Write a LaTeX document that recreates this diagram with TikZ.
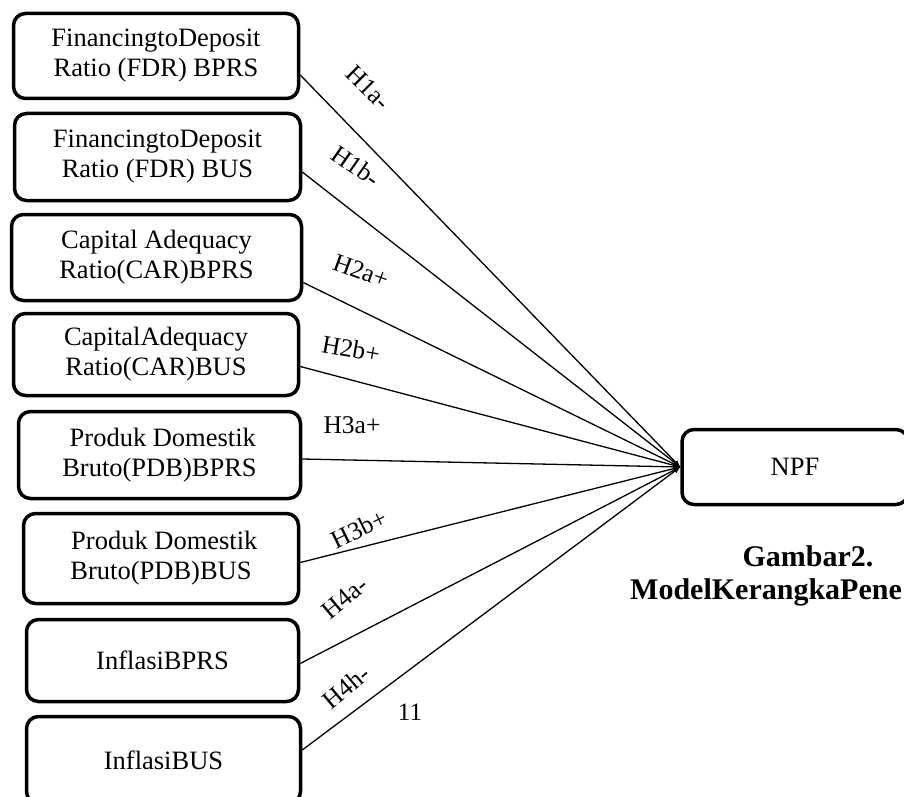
\documentclass[tikz,border=0pt]{standalone}
\usepackage{fontspec}
\setmainfont{Liberation Serif}
\tikzset{
    varbox/.style={draw, line width=3.5pt, rounded corners=12pt, align=center,
        font=\fontsize{26.5}{30}\selectfont},
    hyp/.style={font=\fontsize{25.5}{29}\selectfont, inner sep=0pt},
}
\begin{document}
\begin{tikzpicture}[>=latex, x=1pt, y=-1pt]
    \useasboundingbox (0,0) rectangle (904,797);
    % variabel independen
    \node[varbox, minimum width=285pt, minimum height=85pt] (fdrbprs) at (156,56) {FinancingtoDeposit\\Ratio (FDR) BPRS};
    \node[varbox, minimum width=286pt, minimum height=87pt] (fdrbus) at (157.5,157) {FinancingtoDeposit\\Ratio (FDR) BUS};
    \node[varbox, minimum width=290pt, minimum height=86pt] (carbprs) at (156.5,257.5) {Capital Adequacy\\Ratio(CAR)BPRS};
    \node[varbox, minimum width=285pt, minimum height=82pt] (carbus) at (156,354.5) {CapitalAdequacy\\Ratio(CAR)BUS};
    \node[varbox, minimum width=282pt, minimum height=87pt] (pdbbprs) at (159.5,455) {\ Produk Domestik\\Bruto(PDB)BPRS};
    \node[varbox, minimum width=275pt, minimum height=90pt] (pdbbus) at (161,558.5) {\ Produk Domestik\\Bruto(PDB)BUS};
    \node[varbox, minimum width=272pt, minimum height=82pt] (infbprs) at (162.5,660.5) {InflasiBPRS};
    \node[varbox, minimum width=274pt, minimum height=87pt] (infbus) at (163.5,760) {InflasiBUS};
    % variabel dependen
    \node[varbox, minimum width=226pt, minimum height=75pt] (npf) at (795,467) {NPF};
    % hubungan
    \draw[->, line width=1.3pt] ([yshift=-19pt]fdrbprs.east) -- (npf.west);
    \draw[->, line width=1.3pt] ([yshift=-15pt]fdrbus.east) -- (npf.west);
    \draw[->, line width=1.3pt] ([yshift=-25pt]carbprs.east) -- (npf.west);
    \draw[->, line width=1.3pt] ([yshift=-12pt]carbus.east) -- (npf.west);
    \draw[->, line width=1.3pt] ([yshift=-4pt]pdbbprs.east) -- (npf.west);
    \draw[->, line width=1.3pt] ([yshift=-4pt]pdbbus.east) -- (npf.west);
    \draw[->, line width=1.3pt] ([yshift=-3pt]infbprs.east) -- (npf.west);
    \draw[->, line width=1.3pt] ([yshift=10pt]infbus.east) -- (npf.west);
    % label hipotesis
    \node[hyp, rotate=-45] (h1a) at (368,88) {H1a-};
    \node[hyp, rotate=-35] (h1b) at (356,166) {H1b-};
    \node[hyp, rotate=-20] (h2a) at (361,271) {H2a+};
    \node[hyp, rotate=-10] (h2b) at (351,349) {H2b+};
    \node[hyp] (h3a) at (352,425) {H3a+};
    \node[hyp, rotate=26] (h3b) at (359,529) {H3b+};
    \node[hyp, rotate=40] (h4a) at (345,598) {H4a-};
    \node[hyp, rotate=40] (h4b) at (346,687) {H4h-};
    \node[font=\fontsize{25}{29}\selectfont] (hal) at (410,712) {11};
    % keterangan gambar
    \node[font=\fontsize{30}{34}\selectfont\bfseries] (cap1) at (808,556) {Gambar2.};
    \node[font=\fontsize{30}{34}\selectfont\bfseries, anchor=west, inner sep=0pt] (cap2) at (630,592) {ModelKerangkaPene};
\end{tikzpicture}
\end{document}
